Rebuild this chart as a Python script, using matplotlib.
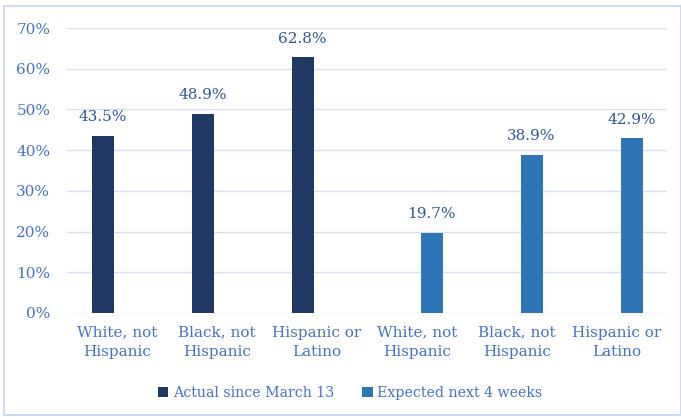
import matplotlib
matplotlib.use("Agg")
import matplotlib.pyplot as plt
from matplotlib.patches import Rectangle
import numpy as np

categories = ["White, not\nHispanic", "Black, not\nHispanic", "Hispanic or\nLatino",
              "White, not\nHispanic", "Black, not\nHispanic", "Hispanic or\nLatino"]
series_names = ["Actual since March 13", "Expected next 4 weeks"]
actual = [43.5, 48.9, 62.8, None, None, None]
expected = [None, None, None, 19.7, 38.9, 42.9]
y_ticks = [0, 10, 20, 30, 40, 50, 60, 70]

dark_blue = "#1F3864"
mid_blue = "#2E75B6"
tick_color = "#4472C4"
label_color = "#2F5597"
grid_color = "#D6E0F2"

plt.rcParams["font.family"] = ["DejaVu Serif"]

fig = plt.figure(figsize=(6.81, 4.17), dpi=100)
ax = fig.add_axes([67 / 681, 1 - 313 / 417, 600 / 681, 285 / 417])

x = np.arange(len(categories))
width = 0.22
offset = 0.145

for vals, dx, color, name in [(actual, -offset, dark_blue, series_names[0]),
                              (expected, offset, mid_blue, series_names[1])]:
    xs = [xi + dx for xi, v in zip(x, vals) if v is not None]
    vs = [v for v in vals if v is not None]
    bars = ax.bar(xs, vs, width=width, color=color, label=name, zorder=3)
    for b, v in zip(bars, vs):
        ax.text(b.get_x() + b.get_width() / 2, v + 2.9, f"{v:.1f}%",
                ha="center", va="bottom", fontsize=11, color=label_color)

ax.set_xlim(-0.5, len(categories) - 0.5)
ax.set_ylim(0, 70)
ax.set_yticks(y_ticks)
ax.set_yticklabels([f"{t}%" for t in y_ticks])
ax.set_xticks(x)
ax.set_xticklabels(categories, linespacing=1.5)
ax.tick_params(axis="both", length=0, colors=tick_color, labelsize=11)
ax.tick_params(axis="y", pad=12)
ax.tick_params(axis="x", pad=9)
ax.grid(axis="y", color=grid_color, linewidth=1.0, zorder=0)
for s in ax.spines.values():
    s.set_visible(False)

leg = fig.legend(loc="center", bbox_to_anchor=(350 / 681, 1 - 393 / 417), ncol=2,
                 frameon=False, fontsize=10.2, handlelength=0.75, handleheight=0.75,
                 handletextpad=0.3, columnspacing=2.0)
for t in leg.get_texts():
    t.set_color(tick_color)

fig.patches.append(Rectangle((4 / 681, 2 / 417), 677 / 681, 409 / 417,
                             transform=fig.transFigure, fill=False,
                             edgecolor="#C5D6EE", linewidth=1.2))

fig.savefig("out.png", dpi=100)
